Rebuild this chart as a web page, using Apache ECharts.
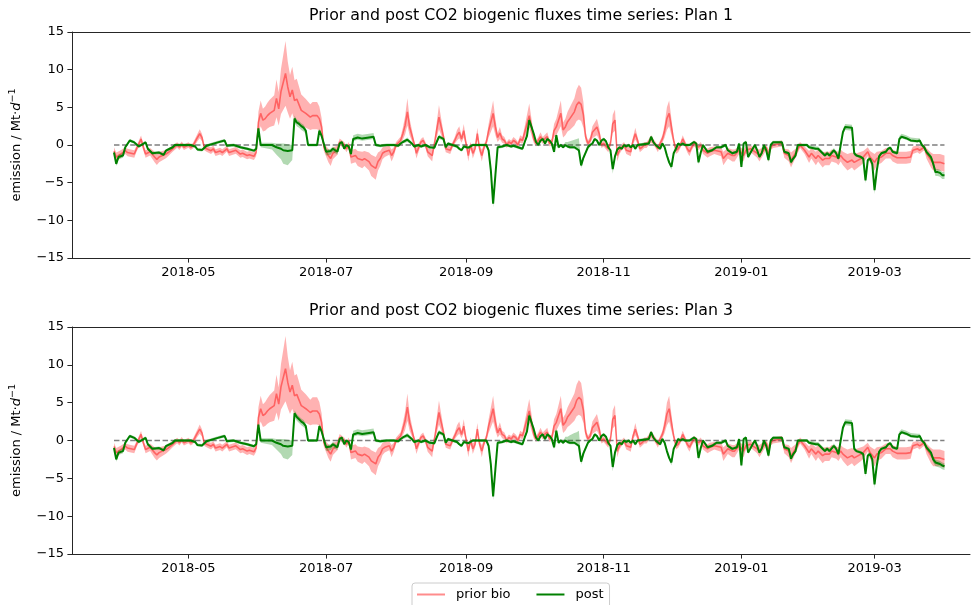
<!DOCTYPE html>
<html>
<head>
<meta charset="utf-8">
<script src="https://cdn.jsdelivr.net/npm/echarts@6/dist/echarts.min.js"></script>
<style>
  html, body { margin: 0; padding: 0; background: #ffffff; }
  #chart { width: 971px; height: 605px; }
</style>
</head>
<body>
<div id="chart"></div>
<script>
// ---- data -----------------------------------------------------------------
// Day offsets are counted from START_DATE (daily fluxes, Mt per day).
const START_DATE = '2018-03-29';
const TICK_LABELS = ['2018-05', '2018-07', '2018-09', '2018-11', '2019-01', '2019-03'];
const Y_MIN = -15, Y_MAX = 15, Y_STEP = 5;
const PLAN_TITLES = [
  'Prior and post CO2 biogenic fluxes time series: Plan 1',
  'Prior and post CO2 biogenic fluxes time series: Plan 3'
];
const SERIES_NAMES = ['prior bio', 'post'];

// prior biogenic flux: [day, value, half-width of uncertainty band]
const PRIOR = [
  [0,-0.8,0.5],[1,-1.6,0.6],[3,-1.2,0.5],[5,-0.75,0.45],[6,-1.0,0.5],[9,-1.2,0.5],[10,-0.5,0.4],[12,0.8,0.45],[13,-0.3,0.4],[14,-1.2,0.5],
  [16,-0.9,0.5],[18,-1.6,0.7],[19,-1.9,0.75],[20,-1.6,0.7],[23,-1.2,0.55],[24,-1.0,0.5],[26,-0.5,0.4],[28,0,0.35],[29,-0.3,0.35],[30,0.1,0.35],
  [31,-0.3,0.35],[33,0,0.35],[34,-0.3,0.35],[35,-0.1,0.35],[37,1.0,0.5],[38,1.5,0.6],[39,1.0,0.5],[40,-0.3,0.4],[41,-0.5,0.4],[43,-0.75,0.45],
  [44,-0.5,0.4],[45,-1.0,0.45],[47,-0.8,0.45],[48,-1.0,0.45],[50,-0.5,0.4],[51,-1.0,0.45],[53,-0.8,0.45],[54,-0.7,0.45],[56,-1.2,0.5],[57,-1.1,0.5],
  [59,-1.4,0.5],[60,-1.3,0.5],[62,-1.5,0.5],[63,-1.0,0.5],
  [64,3.0,1.4],[65,4.2,1.7],[66,3.3,1.5],[67,3.5,1.6],[68,3.9,1.7],[69,4.2,1.8],[71,4.6,2.0],[72,6.2,2.5],[73,4.8,2.2],[74,7.1,3.0],
  [76,9.5,4.3],[77,7.7,3.4],[78,6.4,2.9],[79,7.3,3.1],[80,5.9,2.7],[81,6.1,2.7],[83,4.6,2.1],[84,4.4,2.0],[85,4.2,1.9],[87,3.7,1.7],
  [88,3.9,1.8],[90,3.9,1.8],[91,3.5,1.6],[92,2.4,1.2],
  [93,-0.3,0.5],[95,-1.4,0.9],[96,-1.8,1.0],[97,-1.1,0.8],[99,-0.7,0.6],[100,0.4,0.45],[102,0,0.4],[103,-0.5,0.45],[104,0,0.4],[105,-1.6,0.9],
  [107,-1.4,0.9],[108,-1.8,1.0],[110,-2.0,1.1],[111,-1.8,1.0],[113,-2.2,1.2],[114,-2.7,1.4],[116,-3.1,1.5],[117,-2.2,1.2],[118,-1.8,1.0],[119,-1.1,0.8],
  [120,-0.9,0.7],[122,-0.7,0.6],[123,-1.4,0.8],[124,-0.9,0.6],[125,0,0.4],
  [127,0.6,0.5],[128,1.5,0.8],[129,2.6,1.2],[130,4.4,1.8],[131,2.4,1.1],[133,0.2,0.4],[134,-1.1,0.7],[136,0.4,0.4],[137,0.6,0.45],[138,0,0.4],
  [139,-0.9,0.6],[141,-1.4,0.8],[142,0.2,0.4],[143,2.0,1.0],[144,3.7,1.6],[145,2.4,1.1],[146,1.1,0.6],[147,-0.5,0.45],[149,-0.7,0.5],[150,0,0.4],
  [151,0.6,0.45],[152,1.3,0.7],[153,1.7,0.8],[154,0.8,0.5],[155,1.9,0.9],[156,0.2,0.4],[157,-1.4,0.8],[158,0,0.4],[159,-1.1,0.7],[160,-0.5,0.45],
  [161,1.5,0.8],[162,-0.5,0.45],[163,-1.4,0.8],[164,-0.3,0.4],[165,0.4,0.4],[166,1.9,0.9],[168,4.2,1.7],[169,2.4,1.1],[170,1.0,0.6],[171,1.6,0.8],
  [172,0.8,0.5],[173,0.6,0.45],[174,0,0.4],[175,0.4,0.4],[176,0.2,0.4],[177,0.6,0.45],[178,0.4,0.4],[179,0,0.4],[180,0.8,0.5],[181,0.6,0.45],
  [182,1.7,0.8],[184,3.9,1.6],[185,2.4,1.1],[186,0.8,0.5],[187,0.2,0.4],[188,0.6,0.45],[189,1.1,0.6],[190,0.6,0.45],[192,1.1,0.6],[193,0.2,0.4],
  [194,0.4,0.4],[195,1.9,0.9],[196,2.4,1.1],[198,4.2,1.7],[199,2.0,1.0],[200,2.4,1.1],[201,3.1,1.3],[202,3.5,1.5],[204,4.4,1.8],[205,5.3,2.1],
  [206,5.7,2.3],[207,5.4,2.2],[208,4.0,1.7],[209,1.1,0.6],[210,0.2,0.4],[211,0.6,0.45],[212,1.7,0.8],[214,2.4,1.1],[215,1.5,0.8],[216,0,0.4],
  [217,0.2,0.4],[219,-0.5,0.45],[220,0.2,0.4],[221,2.8,1.2],[222,3.3,1.4],[223,-1.4,0.8],[224,-0.7,0.5],[225,-0.3,0.4],[226,0,0.4],[227,-0.7,0.5],
  [229,-0.9,0.6],[230,0.6,0.45],[231,1.5,0.8],[232,0.6,0.45],[233,-0.5,0.45],[234,-0.3,0.4],[235,0,0.4],[236,0,0.4],[237,0.4,0.4],[238,0.8,0.5],
  [239,0.4,0.4],[240,0,0.4],[241,-0.5,0.45],[242,0.2,0.4],[243,0.8,0.5],[244,1.9,0.9],[245,3.5,1.5],[246,4.2,1.7],[247,2.4,1.1],[248,0.6,0.45],
  [249,-0.7,0.5],[250,-0.5,0.45],[251,0,0.4],[252,0.8,0.5],[253,0.2,0.4],[254,-0.5,0.45],[255,-0.9,0.6],[256,-0.3,0.4],[257,0.2,0.4],[258,0,0.4],
  [259,-0.3,0.4],[260,0,0.4],[261,-0.7,0.5],[263,-1.1,0.6],[264,-0.9,0.6],[266,-0.7,0.5],[269,-0.9,0.6],[270,-1.8,0.9],[272,-1.1,0.7],[274,-1.4,0.8],
  [275,-1.4,0.8],[277,-0.7,0.5],[279,-1.4,0.8],[280,-0.7,0.5],[282,-0.5,0.45],[283,-0.7,0.5],[285,-1.1,0.6],[286,-1.4,0.8],[289,-0.3,0.4],[290,-1.4,0.8],
  [291,-0.3,0.4],[292,0,0.4],[296,0.2,0.4],[297,-1.1,0.6],[299,-1.4,0.8],[300,-2.0,1.0],[302,-1.1,0.6],[304,0,0.4],[306,-0.7,0.5],[308,-1.6,0.8],
  [309,-1.1,0.7],[311,-1.8,0.9],[312,-1.4,0.8],[314,-2.0,1.0],[315,-1.8,0.9],[317,-1.8,0.9],[318,-1.4,0.8],[320,-1.6,0.8],[321,-1.8,0.9],[322,-1.4,0.8],
  [323,-1.8,0.9],[325,-2.3,1.1],[327,-2.0,1.0],[328,-2.3,1.1],[331,-1.8,0.9],[332,-1.6,0.8],[334,-0.9,0.6],[335,-1.6,0.8],[337,-2.3,1.1],[338,-1.8,0.9],
  [340,-1.6,0.8],[342,-1.1,0.7],[344,-1.1,0.7],[345,-1.4,0.8],[347,-1.7,0.8],[351,-1.7,0.8],[353,-1.6,0.8],[354,-0.7,0.5],[356,-0.5,0.45],[357,-0.7,0.5],
  [359,-0.3,0.4],[360,-1.1,0.7],[362,-2.0,1.0],[363,-2.3,1.1],[366,-2.3,1.1],[368,-2.5,1.1]
];

// posterior flux, Plan 1: [day, value, band below, band above]
const POST_PLAN1 = [
  [0,-1.0,0.3,0.3],[1,-2.5,0.3,0.3],[2,-1.6,0.3,0.3],[4,-1.4,0.3,0.3],[5,-0.3,0.2,0.2],[7,0.6,0.2,0.2],[9,0.35,0.2,0.2],[11,-0.2,0.2,0.2],
  [14,0.35,0.2,0.2],[15,-0.5,0.2,0.2],[17,-1.1,0.2,0.2],[20,-1.0,0.2,0.2],[22,-1.3,0.2,0.2],[23,-0.75,0.2,0.2],[26,-0.3,0.2,0.2],[27,0,0.2,0.2],
  [34,0,0.2,0.2],[36,-0.2,0.2,0.2],[37,-0.6,0.2,0.2],[39,-0.65,0.2,0.2],[41,-0.1,0.2,0.2],[46,0.35,0.2,0.2],[49,0.6,0.2,0.2],[50,-0.1,0.2,0.2],
  [53,0,0.2,0.2],[56,-0.3,0.2,0.2],[59,-0.5,0.2,0.2],[62,-0.75,0.2,0.2],[63,-0.5,0.2,0.2],[64,2.2,0.3,0.3],[65,0,0.3,0.3],[70,0,0.6,0.3],
  [72,-0.3,1.0,0.5],[74,-0.5,1.4,0.7],[75,-0.7,1.8,0.9],[77,-0.8,1.9,0.9],[79,-0.7,1.3,0.7],[80,3.5,0.5,0.4],[81,3.0,0.5,0.4],[82,2.8,0.5,0.4],
  [83,2.5,0.5,0.4],[84,2.3,0.5,0.4],[85,1.9,0.4,0.3],[86,0,0.2,0.2],[90,0,0.2,0.2],[91,1.9,0.3,0.3],[92,1.2,0.3,0.3],[94,-0.9,0.5,0.3],
  [96,-0.8,0.5,0.3],[97,-0.5,0.4,0.3],[99,-0.9,0.4,0.3],[100,0.2,0.2,0.2],[101,0.4,0.2,0.2],[102,-0.5,0.2,0.2],[103,0,0.2,0.2],[104,-0.2,0.2,0.2],
  [105,-1.2,0.3,0.3],[106,0.8,0.3,0.5],[108,1.0,0.3,0.5],[110,0.85,0.3,0.5],[113,1.0,0.3,0.5],[115,1.1,0.3,0.5],[116,0,0.2,0.2],[118,-0.1,0.2,0.2],
  [121,0,0.2,0.2],[124,0,0.2,0.2],[126,-0.1,0.2,0.2],[127,0.2,0.2,0.2],[128,0.4,0.2,0.2],[130,0.7,0.3,0.3],[132,0.2,0.2,0.2],[133,-0.2,0.2,0.2],
  [135,0,0.2,0.2],[136,-0.2,0.2,0.2],[138,0,0.2,0.2],[140,-0.3,0.2,0.2],[142,-0.35,0.2,0.2],[143,0.4,0.2,0.2],[144,1.1,0.3,0.3],[146,0.8,0.2,0.2],
  [147,-0.3,0.2,0.2],[148,0.2,0.2,0.2],[150,0,0.2,0.2],[152,-0.2,0.2,0.2],[153,-0.5,0.2,0.2],[154,-0.7,0.2,0.2],[155,-0.2,0.2,0.2],[157,-0.35,0.2,0.2],
  [159,0,0.2,0.2],[165,0,0.2,0.2],[166,-0.7,0.3,0.3],[167,-3.4,0.4,0.4],[168,-7.8,0.5,0.4],[169,-4.0,0.4,0.4],[170,-0.3,0.2,0.2],[172,-0.2,0.2,0.2],
  [174,0,0.2,0.2],[176,-0.2,0.2,0.2],[177,-0.1,0.2,0.2],[179,-0.3,0.2,0.2],[180,-0.4,0.2,0.2],[181,-0.5,0.2,0.2],[182,0.4,0.2,0.2],[183,1.2,0.3,0.3],
  [184,3.3,0.3,0.4],[185,2.4,0.3,0.3],[186,1.5,0.2,0.2],[187,0.4,0.2,0.2],[188,0,0.2,0.2],[189,0.6,0.2,0.2],[190,0.8,0.2,0.2],[191,0.2,0.2,0.2],
  [192,0.8,0.2,0.2],[193,0.6,0.2,0.2],[194,0.2,0.2,0.2],[195,-0.9,0.3,0.2],[196,1.3,0.2,0.3],[197,-0.3,0.2,0.2],[198,0,0.2,0.2],[199,-0.3,0.2,0.2],
  [200,0,0.2,0.4],[201,-0.2,0.2,0.6],[202,-0.3,0.2,0.8],[204,-0.3,0.2,1.0],[205,-0.5,0.2,1.3],[206,-0.7,0.2,1.6],[207,-2.7,0.4,0.5],[208,-1.7,0.3,0.3],
  [209,-1.0,0.2,0.2],[210,-0.3,0.2,0.2],[211,0,0.2,0.2],[212,0.2,0.2,0.2],[213,0.8,0.2,0.2],[214,0.6,0.2,0.2],[215,0,0.2,0.2],[216,0.6,0.2,0.2],
  [217,0.8,0.2,0.2],[218,0.5,0.2,0.2],[219,-0.3,0.2,0.2],[220,-0.7,0.3,0.2],[221,-3.2,0.6,0.4],[222,-1.5,0.3,0.3],[223,-0.6,0.2,0.2],[224,-0.3,0.2,0.2],
  [225,-0.5,0.2,0.2],[226,0,0.2,0.2],[227,-0.2,0.2,0.2],[228,0,0.2,0.2],[229,-0.3,0.2,0.2],[230,0,0.2,0.2],[231,-0.5,0.2,0.2],[232,0,0.2,0.2],
  [237,0.2,0.2,0.2],[238,1.1,0.2,0.2],[239,0.4,0.2,0.2],[240,0,0.2,0.2],[242,-0.5,0.2,0.2],[243,0.2,0.2,0.2],[244,-0.3,0.2,0.2],[245,-1.4,0.3,0.3],
  [246,-2.3,0.3,0.3],[247,-2.9,0.4,0.3],[248,-1.1,0.3,0.2],[249,-0.5,0.2,0.2],[250,0.2,0.2,0.2],[251,0,0.2,0.2],[252,0.2,0.2,0.2],[253,0,0.2,0.2],
  [255,0,0.2,0.2],[256,0.2,0.2,0.2],[257,0.4,0.2,0.2],[258,0.2,0.2,0.2],[259,-2.3,0.3,0.3],[260,-1.0,0.2,0.2],[261,0,0.2,0.2],[263,-0.9,0.2,0.2],
  [265,-0.7,0.2,0.2],[267,-0.3,0.2,0.2],[269,-0.3,0.2,0.2],[271,0,0.2,0.2],[272,-0.7,0.2,0.2],[274,-1.1,0.2,0.2],[276,-0.9,0.2,0.2],[277,0.2,0.2,0.2],
  [278,-2.9,0.3,0.3],[279,0.2,0.2,0.2],[280,0.4,0.2,0.2],[281,-1.6,0.2,0.2],[283,-0.5,0.2,0.2],[284,0,0.2,0.2],[285,-0.7,0.2,0.2],[286,-1.6,0.2,0.2],
  [287,-1.1,0.2,0.2],[288,0,0.2,0.2],[289,-0.7,0.2,0.2],[290,-2.0,0.3,0.2],[291,0,0.2,0.2],[292,0.35,0.2,0.2],[296,0.35,0.2,0.2],[297,-0.9,0.2,0.2],
  [299,-1.1,0.2,0.2],[300,-2.3,0.3,0.3],[301,-1.8,0.2,0.2],[302,-1.4,0.2,0.2],[303,0,0.2,0.2],[307,0,0.2,0.2],[308,-0.3,0.2,0.3],[311,-0.5,0.2,0.3],
  [312,-0.5,0.2,0.3],[314,-1.1,0.2,0.3],[315,-1.4,0.2,0.3],[316,-1.1,0.2,0.3],[317,-1.4,0.2,0.3],[319,-0.7,0.2,0.3],[320,-1.1,0.2,0.3],[321,-1.8,0.3,0.3],
  [322,0,0.3,0.3],[323,1.7,0.3,0.3],[324,2.4,0.4,0.4],[327,2.3,0.4,0.4],[328,-1.1,0.3,0.3],[329,-1.4,0.2,0.2],[331,-1.6,0.2,0.2],[332,-1.8,0.3,0.2],
  [333,-4.7,0.4,0.3],[334,-2.0,0.3,0.3],[335,-1.8,0.2,0.2],[336,-2.5,0.3,0.3],[337,-6.0,0.5,0.4],[338,-3.4,0.4,0.3],[339,-1.5,0.2,0.2],[340,-1.1,0.2,0.2],
  [342,-0.9,0.2,0.2],[343,-0.5,0.2,0.2],[344,-0.35,0.2,0.2],[345,-0.9,0.2,0.2],[347,-1.1,0.2,0.2],[348,0.8,0.2,0.4],[349,1.1,0.2,0.4],[351,0.9,0.2,0.4],
  [353,0.6,0.2,0.4],[356,0.5,0.2,0.4],[357,0.6,0.2,0.3],[358,0,0.2,0.2],[359,-0.3,0.2,0.2],[360,-0.9,0.3,0.3],[362,-1.6,0.3,0.3],[363,-2.5,0.4,0.4],
  [364,-3.6,0.5,0.4],[365,-3.6,0.5,0.4],[366,-3.7,0.5,0.4],[367,-4.0,0.5,0.4],[368,-4.0,0.5,0.4]
];

// posterior flux, Plan 3: [day, value, band below, band above]
const POST_PLAN3 = [
  [0,-1.0,0.3,0.3],[1,-2.5,0.3,0.3],[2,-1.6,0.3,0.3],[4,-1.4,0.3,0.3],[5,-0.3,0.2,0.2],[7,0.6,0.2,0.2],[9,0.35,0.2,0.2],[11,-0.2,0.2,0.2],
  [14,0.35,0.2,0.2],[15,-0.5,0.2,0.2],[17,-1.1,0.2,0.2],[20,-1.0,0.2,0.2],[22,-1.3,0.2,0.2],[23,-0.75,0.2,0.2],[26,-0.3,0.2,0.2],[27,0,0.2,0.2],
  [34,0,0.2,0.2],[36,-0.2,0.2,0.2],[37,-0.6,0.2,0.2],[39,-0.65,0.2,0.2],[41,-0.1,0.2,0.2],[46,0.35,0.2,0.2],[49,0.6,0.2,0.2],[50,-0.1,0.2,0.2],
  [53,0,0.2,0.2],[56,-0.3,0.2,0.2],[59,-0.5,0.2,0.2],[62,-0.75,0.2,0.2],[63,-0.5,0.2,0.2],[64,2.1,0.3,0.3],[65,0,0.3,0.3],[70,0,0.6,0.3],
  [72,-0.3,0.9,0.5],[74,-0.5,1.3,0.7],[75,-0.7,1.6,0.9],[77,-0.8,1.7,0.9],[79,-0.7,1.2,0.7],[80,3.6,0.5,0.4],[81,3.1,0.5,0.4],[82,2.8,0.5,0.4],
  [83,2.5,0.5,0.4],[84,2.3,0.5,0.4],[85,1.9,0.4,0.3],[86,0,0.2,0.2],[90,0,0.2,0.2],[91,1.9,0.3,0.3],[92,1.2,0.3,0.3],[94,-0.9,0.5,0.3],
  [96,-0.8,0.5,0.3],[97,-0.5,0.4,0.3],[99,-0.9,0.4,0.3],[100,0.2,0.2,0.2],[101,0.4,0.2,0.2],[102,-0.5,0.2,0.2],[103,0,0.2,0.2],[104,-0.2,0.2,0.2],
  [105,-1.2,0.3,0.3],[106,0.8,0.3,0.5],[108,1.0,0.3,0.5],[110,0.85,0.3,0.5],[113,1.0,0.3,0.5],[115,1.1,0.3,0.5],[116,0,0.2,0.2],[118,-0.1,0.2,0.2],
  [121,0,0.2,0.2],[124,0,0.2,0.2],[126,-0.1,0.2,0.2],[127,0.2,0.2,0.2],[128,0.4,0.2,0.2],[130,0.7,0.3,0.3],[132,0.2,0.2,0.2],[133,-0.2,0.2,0.2],
  [135,0,0.2,0.2],[136,-0.2,0.2,0.2],[138,0,0.2,0.2],[140,-0.3,0.2,0.2],[142,-0.35,0.2,0.2],[143,0.4,0.2,0.2],[144,1.1,0.3,0.3],[146,0.8,0.2,0.2],
  [147,-0.3,0.2,0.2],[148,0.2,0.2,0.2],[150,0,0.2,0.2],[152,-0.2,0.2,0.2],[153,-0.5,0.2,0.2],[154,-0.7,0.2,0.2],[155,-0.2,0.2,0.2],[157,-0.35,0.2,0.2],
  [159,0,0.2,0.2],[165,0,0.2,0.2],[166,-0.7,0.3,0.3],[167,-3.2,0.4,0.4],[168,-7.4,0.5,0.4],[169,-3.8,0.4,0.4],[170,-0.3,0.2,0.2],[172,-0.2,0.2,0.2],
  [174,0,0.2,0.2],[176,-0.2,0.2,0.2],[177,-0.1,0.2,0.2],[179,-0.3,0.2,0.2],[180,-0.4,0.2,0.2],[181,-0.5,0.2,0.2],[182,0.4,0.2,0.2],[183,1.2,0.3,0.3],
  [184,3.3,0.3,0.4],[185,2.4,0.3,0.3],[186,1.5,0.2,0.2],[187,0.4,0.2,0.2],[188,0,0.2,0.2],[189,0.6,0.2,0.2],[190,0.8,0.2,0.2],[191,0.2,0.2,0.2],
  [192,0.8,0.2,0.2],[193,0.6,0.2,0.2],[194,0.2,0.2,0.2],[195,-0.9,0.3,0.2],[196,1.3,0.2,0.3],[197,-0.3,0.2,0.2],[198,0,0.2,0.2],[199,-0.3,0.2,0.2],
  [200,0,0.2,0.5],[201,-0.2,0.2,0.7],[202,-0.3,0.2,1.0],[204,-0.3,0.2,1.3],[205,-0.5,0.2,1.6],[206,-0.7,0.2,2.0],[207,-2.8,0.4,0.5],[208,-1.7,0.3,0.3],
  [209,-1.0,0.2,0.2],[210,-0.3,0.2,0.2],[211,0,0.2,0.2],[212,0.2,0.2,0.2],[213,0.8,0.2,0.2],[214,0.6,0.2,0.2],[215,0,0.2,0.2],[216,0.6,0.2,0.2],
  [217,0.8,0.2,0.2],[218,0.5,0.2,0.2],[219,-0.3,0.2,0.2],[220,-0.7,0.3,0.2],[221,-3.5,0.6,0.4],[222,-1.6,0.3,0.3],[223,-0.6,0.2,0.2],[224,-0.3,0.2,0.2],
  [225,-0.5,0.2,0.2],[226,0,0.2,0.2],[227,-0.2,0.2,0.2],[228,0,0.2,0.2],[229,-0.3,0.2,0.2],[230,0,0.2,0.2],[231,-0.5,0.2,0.2],[232,0,0.2,0.2],
  [237,0.2,0.2,0.2],[238,1.1,0.2,0.2],[239,0.4,0.2,0.2],[240,0,0.2,0.2],[242,-0.5,0.2,0.2],[243,0.2,0.2,0.2],[244,-0.3,0.2,0.2],[245,-1.4,0.3,0.3],
  [246,-2.3,0.3,0.3],[247,-2.9,0.4,0.3],[248,-1.1,0.3,0.2],[249,-0.5,0.2,0.2],[250,0.2,0.2,0.2],[251,0,0.2,0.2],[252,0.2,0.2,0.2],[253,0,0.2,0.2],
  [255,0,0.2,0.2],[256,0.2,0.2,0.2],[257,0.4,0.2,0.2],[258,0.2,0.2,0.2],[259,-2.3,0.3,0.3],[260,-1.0,0.2,0.2],[261,0,0.2,0.2],[263,-0.9,0.2,0.2],
  [265,-0.7,0.2,0.2],[267,-0.3,0.2,0.2],[269,-0.3,0.2,0.2],[271,0,0.2,0.2],[272,-0.7,0.2,0.2],[274,-1.1,0.2,0.2],[276,-0.9,0.2,0.2],[277,0.2,0.2,0.2],
  [278,-3.3,0.3,0.3],[279,0.2,0.2,0.2],[280,0.4,0.2,0.2],[281,-1.6,0.2,0.2],[283,-0.5,0.2,0.2],[284,0,0.2,0.2],[285,-0.7,0.2,0.2],[286,-1.6,0.2,0.2],
  [287,-1.1,0.2,0.2],[288,0,0.2,0.2],[289,-0.7,0.2,0.2],[290,-2.0,0.3,0.2],[291,0,0.2,0.2],[292,0.35,0.2,0.2],[296,0.35,0.2,0.2],[297,-0.9,0.2,0.2],
  [299,-1.1,0.2,0.2],[300,-2.4,0.3,0.3],[301,-1.8,0.2,0.2],[302,-1.4,0.2,0.2],[303,0,0.2,0.2],[307,0,0.2,0.2],[308,-0.3,0.2,0.3],[311,-0.5,0.2,0.3],
  [312,-0.5,0.2,0.3],[314,-1.1,0.2,0.3],[315,-1.4,0.2,0.3],[316,-1.1,0.2,0.3],[317,-1.4,0.2,0.3],[319,-0.7,0.2,0.3],[320,-1.1,0.2,0.3],[321,-1.8,0.3,0.3],
  [322,0,0.3,0.3],[323,1.7,0.3,0.3],[324,2.4,0.4,0.4],[327,2.3,0.4,0.4],[328,-1.1,0.3,0.3],[329,-1.4,0.2,0.2],[331,-1.6,0.2,0.2],[332,-1.8,0.3,0.2],
  [333,-4.4,0.4,0.3],[334,-2.0,0.3,0.3],[335,-1.8,0.2,0.2],[336,-2.5,0.3,0.3],[337,-5.8,0.5,0.4],[338,-3.3,0.4,0.3],[339,-1.5,0.2,0.2],[340,-1.1,0.2,0.2],
  [342,-0.9,0.2,0.2],[343,-0.5,0.2,0.2],[344,-0.35,0.2,0.2],[345,-0.9,0.2,0.2],[347,-1.1,0.2,0.2],[348,0.8,0.2,0.4],[349,1.1,0.2,0.4],[351,0.9,0.2,0.4],
  [353,0.6,0.2,0.4],[356,0.5,0.2,0.4],[357,0.6,0.2,0.3],[358,0,0.2,0.2],[359,-0.3,0.2,0.2],[360,-0.9,0.3,0.3],[362,-1.6,0.3,0.3],[363,-2.5,0.4,0.4],
  [364,-2.9,0.5,0.4],[365,-3.0,0.5,0.4],[366,-3.1,0.5,0.4],[367,-3.3,0.5,0.4],[368,-3.4,0.5,0.4]
];

// ---- helpers --------------------------------------------------------------
const DAY_MS = 86400000;
const START_MS = Date.parse(START_DATE + 'T00:00:00Z');
const dayToMs = d => START_MS + d * DAY_MS;
const TICK_MS = TICK_LABELS.map(s => Date.parse(s + '-01T00:00:00Z'));
const X_MIN = dayToMs(-18.6);
const X_MAX = dayToMs(379.3);

const FONT = 'DejaVu Sans';
const INK = '#000000';
const SPINE = '#262626';
const RED_LINE = 'rgba(255,0,0,0.45)';
const RED_BAND = 'rgba(255,0,0,0.3)';
const GREEN_LINE = '#008000';
const GREEN_BAND = 'rgba(0,128,0,0.3)';

const GRIDS = [
  { left: 72, right: 1, top: 32, height: 226 },
  { left: 72, right: 1, top: 327, height: 227 }
];

function fmtY(v) { return v < 0 ? '\u2212' + Math.abs(v) : String(v); }
function fmtX(v) {
  let best = 0;
  TICK_MS.forEach((t, i) => { if (Math.abs(t - v) < Math.abs(TICK_MS[best] - v)) best = i; });
  return TICK_LABELS[best];
}

// each panel owns two x axes: the date axis (2g) and a top frame line (2g+1)
const dateAxis = g => 2 * g;

// filled uncertainty band drawn as one polygon through the axis scales
function bandSeries(g, rows, lower, upper, color, z) {
  return {
    type: 'custom',
    xAxisIndex: dateAxis(g), yAxisIndex: g,
    silent: true, z: z, clip: true,
    data: [[dayToMs(rows[0][0]), rows[0][1]]],
    renderItem: function (params, api) {
      const top = rows.map(r => api.coord([dayToMs(r[0]), upper(r)]));
      const bot = rows.map(r => api.coord([dayToMs(r[0]), lower(r)])).reverse();
      return { type: 'polygon', shape: { points: top.concat(bot) }, style: { fill: color } };
    }
  };
}

function lineSeries(g, name, rows, color, width, z) {
  return {
    type: 'line', name: name,
    xAxisIndex: dateAxis(g), yAxisIndex: g,
    data: rows.map(r => [dayToMs(r[0]), r[1]]),
    showSymbol: false, symbol: 'none', silent: true, z: z,
    itemStyle: { color: color },
    lineStyle: { color: color, width: width }
  };
}

function zeroSeries(g) {
  const first = PRIOR[0][0], last = PRIOR[PRIOR.length - 1][0];
  return {
    type: 'line', xAxisIndex: dateAxis(g), yAxisIndex: g,
    data: [[dayToMs(first), 0], [dayToMs(last), 0]],
    showSymbol: false, symbol: 'none', silent: true, z: 3,
    lineStyle: { color: '#7f7f7f', width: 1.5, type: [5.5, 2.6] }
  };
}

const POSTS = [POST_PLAN1, POST_PLAN3];

const xAxes = [], yAxes = [], series = [], titles = [];
GRIDS.forEach((gr, g) => {
  // date axis kept numeric (epoch ms) so ticks sit on the first of each labelled month
  xAxes.push({
    type: 'value', gridIndex: g, min: X_MIN, max: X_MAX,
    axisLine: { show: true, onZero: false, lineStyle: { color: SPINE, width: 1 } },
    axisTick: { show: true, customValues: TICK_MS, length: 4.6, lineStyle: { color: SPINE, width: 1 } },
    axisLabel: { customValues: TICK_MS, formatter: fmtX, color: INK, fontFamily: FONT, fontSize: 13, margin: 8, hideOverlap: false },
    splitLine: { show: false }
  });
  // frame line along the top of each panel
  xAxes.push({
    type: 'value', gridIndex: g, position: 'top', min: 0, max: 1,
    axisLine: { show: true, onZero: false, lineStyle: { color: SPINE, width: 1 } },
    axisTick: { show: false }, axisLabel: { show: false }, splitLine: { show: false }
  });
  yAxes.push({
    type: 'value', gridIndex: g, min: Y_MIN, max: Y_MAX, interval: Y_STEP,
    axisLine: { show: true, onZero: false, lineStyle: { color: SPINE, width: 1 } },
    axisTick: { show: true, length: 4.6, lineStyle: { color: SPINE, width: 1 } },
    axisLabel: { formatter: fmtY, color: INK, fontFamily: FONT, fontSize: 13, margin: 8 },
    splitLine: { show: false },
    name: '{a|emission / Mt\u00b7}{i|d}{s|\u22121}',
    nameLocation: 'middle', nameRotate: 90, nameGap: 46,
    nameTextStyle: {
      color: INK, fontFamily: FONT, fontSize: 13,
      rich: {
        a: { fontFamily: FONT, fontSize: 13, color: INK },
        i: { fontFamily: FONT, fontSize: 13, fontStyle: 'italic', color: INK },
        s: { fontFamily: FONT, fontSize: 9.5, color: INK, padding: [0, 0, 8, 0] }
      }
    }
  });
  titles.push({
    text: PLAN_TITLES[g], left: 521, textAlign: 'center',
    top: gr.top - 24, padding: 0,
    textStyle: { color: INK, fontFamily: FONT, fontSize: 15.8, fontWeight: 'normal' }
  });

  const post = POSTS[g];
  series.push(bandSeries(g, PRIOR, r => r[1] - r[2], r => r[1] + r[2], RED_BAND, 1));
  series.push(zeroSeries(g));
  series.push(lineSeries(g, SERIES_NAMES[0], PRIOR, RED_LINE, 1.6, 4));
  series.push(bandSeries(g, post, r => r[1] - r[2], r => r[1] + r[3], GREEN_BAND, 5));
  series.push(lineSeries(g, SERIES_NAMES[1], post, GREEN_LINE, 2, 6));
});

const chart = echarts.init(document.getElementById('chart'), null, { renderer: 'canvas' });
chart.setOption({
  animation: false,
  backgroundColor: '#ffffff',
  title: titles,
  grid: GRIDS,
  xAxis: xAxes,
  yAxis: yAxes,
  legend: {
    data: SERIES_NAMES,
    left: 412, top: 583,
    padding: [5, 6, 9, 5],
    itemWidth: 28, itemHeight: 2, itemGap: 26,
    icon: 'rect',
    borderColor: '#cccccc', borderWidth: 1, borderRadius: 3,
    backgroundColor: 'rgba(255,255,255,0.8)',
    textStyle: { color: INK, fontFamily: FONT, fontSize: 13, padding: [0, 0, 0, 6] },
    selectedMode: false
  },
  series: series
});
</script>
</body>
</html>
